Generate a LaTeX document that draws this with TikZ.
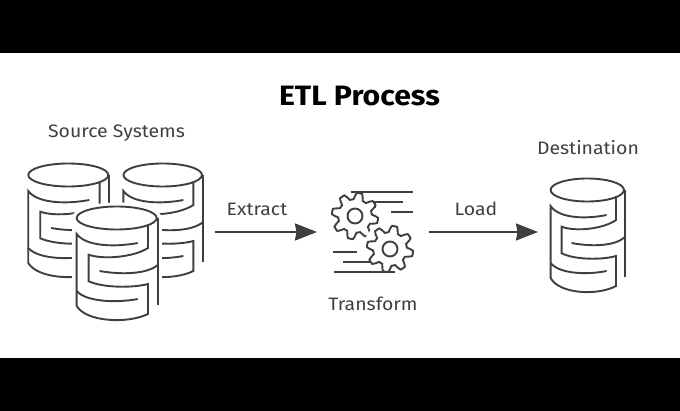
\documentclass[tikz,border=0pt]{standalone}
\usepackage{fontspec}
\setmainfont[FakeStretch=1.08]{Fira Sans}
\usetikzlibrary{arrows,arrows.meta}

\definecolor{inkgray}{HTML}{3F3F3F}

\tikzset{
  pics/database/.style={code={
    \draw[icon] (0,0) ellipse [x radius=36.7, y radius=11.5];
    \draw[icon] (37.7,0) -- (37.7,87);
    \draw[icon] (28.7,6.5) -- (28.7,30) .. controls (16,39) and (-12,42) .. (-25.7,36.7)
                -- (-25.7,63.3) .. controls (-12,70) and (15,70) .. (28.7,66)
                -- (28.7,96) .. controls (10,106) and (-28,104) .. (-36.7,88)
                -- (-36.7,16) .. controls (-28,29) and (0,29) .. (19.3,25);
    \draw[icon] (-36.7,73) .. controls (-28,84) and (0,85) .. (19.3,81);
    \draw[icon] (-15.7,53) .. controls (5,57) and (28,56) .. (37.7,47);
  }},
  pics/gear/.style={code={
    \draw[icon,fill=white] plot[domain=0:360,samples=145,smooth]
      (\x:{20+3.2*max(-1,min(1,1.6*sin(8*\x)))}) -- cycle;
    \draw[icon] (0,0) circle (7.5);
  }}
}

\begin{document}
\begin{tikzpicture}[x=1pt,y=-1pt,
                    icon/.style={draw=inkgray,line width=1.9pt},
                    band/.style={fill=black,draw=none},
                    caption/.style={text=inkgray,font=\fontsize{18}{21}\selectfont,inner sep=0pt},
                    flow/.style={draw=inkgray,line width=2.2pt,
                                 arrows={-{Stealth[length=22pt,width=17pt,inset=1.5pt]}}}]
  \useasboundingbox (0,0) rectangle (680,411);
  \fill[band] (0,0) rectangle (680,53);
  \fill[band] (0,358) rectangle (680,411);

  \node (title) at (359.5,96) [inner sep=0pt,font=\fontsize{28}{32}\selectfont\bfseries] {ETL Process};
  \node[caption] (source) at (116.5,133) {Source Systems};
  \node[caption] (extract) at (257,209) {Extract};
  \node[caption] (transform) at (373,304) {Transform};
  \node[caption] (loadlabel) at (476,209) {Load};
  \node[caption] (destination) at (588,148) {Destination};

  % source systems, front one last
  \pic at (68.3,175) [xscale=1.09,yscale=1.0] {database};
  \pic at (162.7,175) [xscale=1.07,yscale=1.0] {database};
  \fill[white] (116.7,218) ellipse [x radius=45,y radius=15.5];
  \fill[white] (71.7,218) rectangle (161.7,325);
  \pic at (116.7,218) [xscale=1.09,yscale=1.0] {database};

  % destination
  \pic at (587.3,190) {database};

  % transform
  \pic at (355,216) {gear};
  \draw[icon] (352,193) -- (352,192) -- (413,192);
  \draw[icon] (375,208) -- (375,202) -- (403,202);
  \draw[icon] (391,212) -- (413,212);
  \fill[white] (390,249) circle (27);
  \pic at (390,249) {gear};
  \draw[icon] (333,252) -- (357,252);
  \draw[icon] (343,262) -- (370,262);
  \draw[icon] (334,272) -- (395,272);

  \coordinate (srcout) at (215,232);
  \coordinate (gearin) at (317,232);
  \coordinate (gearout) at (429,232);
  \coordinate (dstin) at (538,232);
  \draw[flow] (srcout) -- (gearin);
  \draw[flow] (gearout) -- (dstin);
\end{tikzpicture}
\end{document}
